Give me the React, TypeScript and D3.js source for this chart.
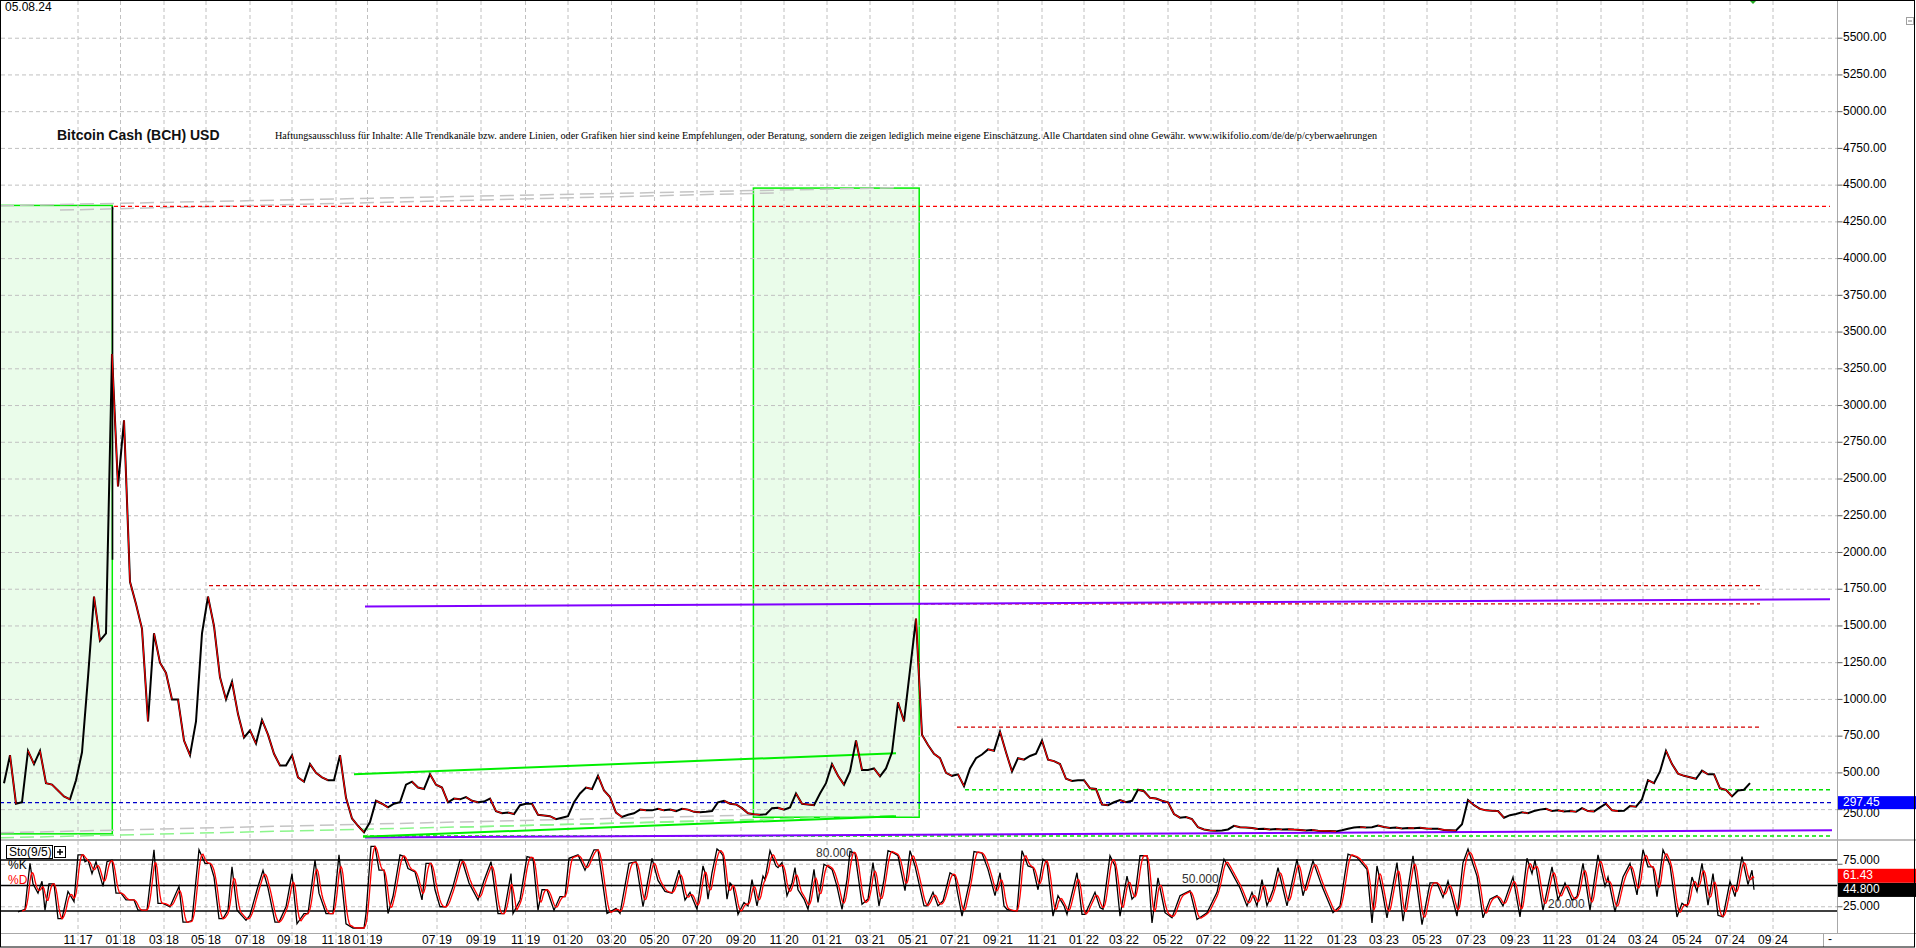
import React, { useEffect } from 'react';
import * as d3 from 'd3';

const W = 1916;
const H = 948;
const FONT = '"Liberation Sans", Arial, sans-serif';

const dateLabel = '05.08.24';
const title = 'Bitcoin Cash (BCH) USD';
const disclaimer =
  'Haftungsausschluss für Inhalte: Alle Trendkanäle bzw. andere Linien, oder Grafiken hier sind keine Empfehlungen, oder Beratung, sondern die zeigen lediglich meine eigene Einschätzung. Alle Chartdaten sind ohne Gewähr.  www.wikifolio.com/de/de/p/cyberwaehrungen';

// x axis is a bar index (not linear in time)
const monthLabels = [
  '11 17', '01 18', '03 18', '05 18', '07 18', '09 18', '11 18', '01 19', '07 19', '09 19',
  '11 19', '01 20', '03 20', '05 20', '07 20', '09 20', '11 20', '01 21', '03 21', '05 21',
  '07 21', '09 21', '11 21', '01 22', '03 22', '05 22', '07 22', '09 22', '11 22', '01 23',
  '03 23', '05 23', '07 23', '09 23', '11 23', '01 24', '03 24', '05 24', '07 24', '09 24',
];
const monthBars = [
  39, 60.25, 82, 103, 125, 146, 168, 183.75, 218.5, 240.5,
  262.75, 284, 305.75, 327.25, 348.5, 370.5, 392, 413.5, 435, 456.5,
  477.5, 499, 521, 542, 562, 584, 605.5, 627.5, 649, 671,
  692, 713.5, 735.5, 757.5, 778.5, 800.5, 821.5, 843.5, 865, 886.5,
];

const priceTicks = [
  250, 500, 750, 1000, 1250, 1500, 1750, 2000, 2250, 2500, 2750,
  3000, 3250, 3500, 3750, 4000, 4250, 4500, 4750, 5000, 5250, 5500,
];
const stochGrid = [25, 50, 75];
const stochAxisLabels = [25, 75];
const stochLevels = [20, 50, 80];
const stochLevelLabelBars = [774, 591, 408];

// closes, one every 3 bars starting at bar 2
const firstBar = 2;
const barStep = 3;
const closes = [
  430, 620, 290, 300, 650, 560, 650, 430, 420, 380, 340, 320, 450, 640, 1150, 1700, 1400, 1450, 3350, 2450,
  2900, 1800, 1650, 1480, 850, 1450, 1250, 1180, 1000, 1000, 720, 620, 850, 1450, 1700, 1500, 1150, 1000, 1120, 900,
  740, 790, 700, 860, 760, 630, 550, 550, 620, 470, 440, 560, 500, 470, 450, 450, 620, 330, 190, 140,
  95, 165, 310, 290, 265, 290, 300, 420, 440, 400, 390, 490, 420, 400, 300, 325, 320, 335, 310, 300,
  305, 325, 240, 225, 230, 220, 280, 290, 290, 215, 210, 205, 185, 195, 205, 300, 360, 400, 390, 480,
  380, 335, 230, 200, 215, 225, 250, 245, 245, 255, 245, 250, 240, 255, 250, 235, 232, 235, 240, 300,
  310, 290, 285, 260, 225, 218, 215, 218, 260, 262, 250, 265, 360, 290, 285, 280, 360, 430, 560, 480,
  420, 510, 720, 520, 520, 530, 476, 530, 640, 980, 850, 1200, 1550, 760, 690, 630, 600, 500, 480, 490,
  410, 530, 600, 625, 660, 650, 780, 640, 510, 600, 590, 615, 630, 720, 590, 580, 560, 460, 445, 450,
  450, 395, 390, 285, 280, 300, 315, 300, 310, 385, 375, 330, 325, 310, 300, 220, 195, 200, 185, 130,
  115, 108, 106, 108, 115, 140, 130, 128, 125, 118, 120, 115, 118, 115, 117, 114, 112, 108, 112, 106,
  105, 104, 102, 110, 120, 128, 132, 128, 130, 142, 132, 125, 128, 122, 125, 124, 127, 122, 120, 120,
  112, 110, 108, 150, 315, 280, 255, 245, 242, 240, 195, 212, 220, 232, 225, 240, 250, 255, 240, 245,
  238, 240, 235, 260, 240, 238, 265, 290, 245, 240, 242, 275, 270, 320, 450, 430, 510, 650, 560, 495,
  480, 470, 460, 515, 490, 490, 395, 385, 340, 380, 385, 430,
];
// [bar, high, low] of the all-time-high bar
const athWick = [56.25, 4355, 1950];

// Sto(9/5) %K as [bar, value]
const stochK: [number, number][] = [
  [9, 19], [12.5, 22], [13.5, 45], [15, 76], [16.5, 52], [19, 41], [21, 55], [22.5, 21], [24.5, 52], [27, 52],
  [29, 11], [31, 11], [34, 43], [37, 31], [39, 86], [41.5, 86], [42.5, 78], [44, 80], [46, 64], [48, 78],
  [51.5, 49], [53.5, 78], [56, 80], [58, 41], [60.5, 41], [63, 33], [67, 33], [69, 21], [73.5, 21], [77, 92],
  [79, 29], [81.5, 29], [85, 25], [89.5, 49], [91.5, 7], [94, 7], [96, 9], [99.5, 92], [102.5, 76], [105, 76],
  [107, 60], [109.5, 11], [111.5, 11], [114, 21], [116, 72], [118.5, 21], [123, 9], [125, 15], [128.5, 45], [131.5, 68],
  [134, 47], [137.5, 7], [139.5, 7], [143, 25], [146, 64], [148.5, 5], [152, 17], [154, 17], [157.5, 80], [159.5, 41],
  [163, 17], [166.5, 17], [169.5, 86], [173, 5], [176.5, 0], [182, 0], [183, 17], [185.5, 96], [187.5, 96], [189.5, 68],
  [192, 68], [194, 17], [196.5, 37], [200, 86], [202, 84], [204, 70], [207.5, 66], [211, 33], [213, 76], [215.5, 76],
  [217.5, 45], [220, 25], [223, 25], [226.5, 49], [230, 80], [231, 80], [234.5, 53], [239, 33], [242, 56], [245.5, 78],
  [249, 17], [252, 17], [255.5, 64], [256.5, 17], [260, 33], [263.5, 84], [266.5, 82], [269, 21], [271, 45], [273.5, 45],
  [277, 21], [280, 37], [282.5, 37], [284.5, 82], [289, 86], [292.5, 68], [297, 92], [299, 92], [303.5, 17], [308, 23],
  [310, 17], [314.5, 76], [318, 78], [321.5, 25], [326, 82], [329, 56], [332.5, 43], [336, 41], [339.5, 68], [342.5, 33],
  [345, 42], [348.5, 22], [351.5, 73], [352.5, 65], [354, 34], [356, 65], [358.5, 93], [360, 90], [361.5, 85], [363.5, 34],
  [365, 53], [366.5, 49], [369, 16], [372, 30], [374, 26], [376, 57], [378.5, 26], [381.5, 61], [382.5, 57], [385, 91],
  [388, 73], [389, 71], [391, 77], [393.5, 38], [396, 53], [397.5, 71], [399, 45], [402, 34], [404, 22], [407, 69],
  [409, 30], [412, 75], [413.5, 73], [416, 69], [418.5, 49], [421, 22], [423.5, 57], [425, 90], [427.5, 88], [431, 28],
  [434, 34], [436.5, 77], [439.5, 26], [442, 57], [444, 91], [447, 88], [449, 85], [452.5, 44], [455, 91], [457.5, 73],
  [462, 26], [463.5, 26], [466.5, 42], [469, 26], [471.5, 32], [475, 65], [477.5, 61], [478.5, 45], [481, 14], [485, 57],
  [487, 90], [491, 88], [494, 69], [497.5, 38], [500, 65], [502, 26], [503.5, 22], [507, 20], [508.5, 20], [511, 91],
  [514, 73], [516.5, 71], [519, 45], [521.5, 81], [523.5, 77], [526.5, 14], [529, 38], [532, 26], [533.5, 16], [538.5, 65],
  [541, 16], [542.5, 16], [547.5, 42], [550, 24], [551.5, 22], [555, 85], [557.5, 73], [560, 14], [563.5, 61], [566, 34],
  [567.5, 38], [570, 85], [573.5, 85], [576, 6], [579, 59], [582.5, 18], [586, 12], [590, 38], [595, 44], [598.5, 10],
  [603.5, 18], [608.5, 42], [612, 81], [615, 69], [620, 47], [623.5, 26], [626, 42], [628.5, 26], [631, 57], [633.5, 26],
  [636.5, 45], [639, 71], [643.5, 26], [648.5, 81], [651.5, 38], [656.5, 79], [661, 49], [666.5, 18], [670, 26], [674, 87],
  [678.5, 83], [683.5, 69], [686, 6], [688.5, 73], [691, 45], [693.5, 12], [698.5, 77], [701.5, 8], [706.5, 85], [711, 4],
  [715, 53], [718.5, 53], [721.5, 36], [724, 55], [728.5, 14], [731.5, 77], [734, 93], [738.5, 61], [741.5, 12], [745, 34],
  [748.5, 38], [751.5, 26], [756.5, 60], [760, 13], [763.5, 82], [766, 64], [767.5, 80], [771.5, 21], [776, 72], [779, 33],
  [782.5, 53], [786, 33], [788.5, 37], [791.5, 76], [795, 21], [799, 86], [802.5, 49], [804, 60], [807.5, 19], [811.5, 60],
  [815, 76], [818.5, 39], [821.5, 92], [824, 72], [826.5, 72], [828.5, 37], [831.5, 92], [835, 74], [838.5, 13], [841, 29],
  [843.5, 25], [846, 60], [848.5, 43], [851, 76], [854, 27], [856.5, 64], [859, 15], [861.5, 13], [865, 55], [867.5, 37],
  [871, 84], [874, 51], [876, 68], [877, 45],
];
const lastK = 44.8;
const lastD = 61.43;
const markPrice = 297.45;

// drawings: [fromBar, toBar, price]
const redLevels = [[57, 915, 4355], [104.5, 880, 1775], [458.5, 880, 1650], [478.5, 880, 811]];
const greenLevels = [[482.5, 916.5, 385], [181.5, 916.5, 71]];
// [bar0, price0, bar1, price1]
const purpleLines = [[182.5, 1633, 915, 1681], [182.5, 61, 916, 109]];
const greenLines = [[177, 490, 448, 634], [181.5, 65, 448, 205]];
const greyDashLines = [[0, 4360, 447, 4482], [30, 4330, 390, 4448], [0, 92, 380, 214]];
const lightGreenLines = [[0, 58, 380, 180], [230, 130, 450, 210]];
// [bar0, bar1, priceLow, priceHigh]
const boxes = [[0, 56.15, 85, 4362], [376.7, 459.6, 198, 4480]];

const x = d3.scaleLinear().domain([0, 920]).range([0, 1840]);
const yP = d3.scaleLinear().domain([50, 5760]).range([839, 0]);
const yS = d3.scaleLinear().domain([0, 100]).range([928, 843]);

const AXIS_X = 1837.5;

const App = () => {
  useEffect(() => {
    document.body.style.margin = '0';
  }, []);

  const pts = closes.map((c, i) => [firstBar + i * barStep, c] as [number, number]);
  const pLine = d3.line<[number, number]>().x(d => x(d[0])).y(d => yP(d[1]));

  const kAt = d3.scaleLinear()
    .domain(stochK.map(d => d[0]))
    .range(stochK.map(d => d[1]))
    .clamp(true);
  // %D: moving average of %K over the last 2 bars
  const dPts: [number, number][] = [];
  for (let b = stochK[0][0] + 2; b <= stochK[stochK.length - 1][0]; b += 0.5) {
    dPts.push([b, d3.mean([0, 0.5, 1, 1.5, 2], j => kAt(b - j)) as number]);
  }
  const sLine = d3.line<[number, number]>().x(d => x(d[0])).y(d => yS(d[1]));

  const dash = '4,3';

  return (
    <svg width={W} height={H} style={{ display: 'block', background: '#fff', fontFamily: FONT }}>
      <rect x={0} y={0} width={W} height={H} fill="#fff" />

      {/* green boxes */}
      {boxes.map((b, i) => (
        <rect key={'bx' + i} x={x(b[0])} y={yP(b[3])} width={x(b[1]) - x(b[0])} height={yP(b[2]) - yP(b[3])}
          fill="#eafcea" stroke="#00ee00" strokeWidth={1.5} />
      ))}

      {/* grid */}
      {monthBars.map((b, i) => (
        <line key={'vg' + i} x1={x(b)} x2={x(b)} y1={1} y2={947} stroke="#c0c0c0" strokeDasharray={dash} />
      ))}
      {priceTicks.map(t => (
        <line key={'hg' + t} x1={1} x2={AXIS_X} y1={yP(t)} y2={yP(t)} stroke="#c0c0c0" strokeDasharray={dash} />
      ))}
      {stochGrid.map(t => (
        <line key={'sg' + t} x1={1} x2={AXIS_X} y1={yS(t)} y2={yS(t)} stroke="#c0c0c0" strokeDasharray={dash} />
      ))}

      {/* trend drawings */}
      {greyDashLines.map((l, i) => (
        <line key={'gd' + i} x1={x(l[0])} y1={yP(l[1])} x2={x(l[2])} y2={yP(l[3])}
          stroke="#c4c4c4" strokeWidth={1.5} strokeDasharray="14,6" />
      ))}
      {lightGreenLines.map((l, i) => (
        <line key={'lg' + i} x1={x(l[0])} y1={yP(l[1])} x2={x(l[2])} y2={yP(l[3])}
          stroke="#8cf58c" strokeWidth={1.5} strokeDasharray="14,6" />
      ))}
      {redLevels.map((l, i) => (
        <line key={'rl' + i} x1={x(l[0])} x2={x(l[1])} y1={yP(l[2])} y2={yP(l[2])}
          stroke={i === 0 ? '#ff0000' : '#d40000'} strokeWidth={1.2} strokeDasharray="4,3" />
      ))}
      <line x1={0} x2={x(916.5)} y1={yP(markPrice)} y2={yP(markPrice)} stroke="#0000c8" strokeWidth={1.2} strokeDasharray="4,3" />
      {greenLevels.map((l, i) => (
        <line key={'gl' + i} x1={x(l[0])} x2={x(l[1])} y1={yP(l[2])} y2={yP(l[2])}
          stroke="#00e000" strokeWidth={1.5} strokeDasharray="4,3" />
      ))}
      {purpleLines.map((l, i) => (
        <line key={'pl' + i} x1={x(l[0])} y1={yP(l[1])} x2={x(l[2])} y2={yP(l[3])} stroke="#8000ff" strokeWidth={2} />
      ))}
      {greenLines.map((l, i) => (
        <line key={'gn' + i} x1={x(l[0])} y1={yP(l[1])} x2={x(l[2])} y2={yP(l[3])} stroke="#00ee00" strokeWidth={2} />
      ))}

      {/* price: black bars underneath, red on falling stretches */}
      <line x1={x(athWick[0])} x2={x(athWick[0])} y1={yP(athWick[1])} y2={yP(athWick[2])} stroke="#000" strokeWidth={1.6} />
      <path d={pLine(pts) || ''} fill="none" stroke="#000" strokeWidth={2} strokeLinejoin="miter" />
      {pts.slice(1).map((p, i) => {
        const q = pts[i];
        if (p[1] >= q[1]) return null;
        return (
          <line key={'p' + i} x1={x(q[0])} y1={yP(q[1])} x2={x(p[0])} y2={yP(p[1])}
            stroke="#ff0000" strokeWidth={1.1} />
        );
      })}

      {/* panels separators */}
      <line x1={0} x2={W} y1={840} y2={840} stroke="#a8a8a8" strokeWidth={1.5} />
      <line x1={0} x2={W} y1={933.5} y2={933.5} stroke="#a8a8a8" />

      {/* stochastic */}
      {stochLevels.map(v => (
        <line key={'sl' + v} x1={1} x2={AXIS_X} y1={yS(v)} y2={yS(v)} stroke="#000" strokeWidth={1.5} />
      ))}
      {stochLevels.map((v, i) => (
        <text key={'st' + v} x={x(stochLevelLabelBars[i])} y={yS(v) - 6} fontSize={12} fill="#333"
          dominantBaseline="middle">{v.toFixed(3)}</text>
      ))}
      <path d={sLine(stochK) || ''} fill="none" stroke="#000" strokeWidth={1.3} />
      <path d={sLine(dPts) || ''} fill="none" stroke="#ff0000" strokeWidth={1.3} />

      <rect x={6.5} y={845.5} width={46} height={13} fill="#fff" stroke="#000" />
      <text x={9} y={852.5} fontSize={12} dominantBaseline="middle" fill="#000">Sto(9/5)</text>
      <rect x={54.5} y={846.5} width={11} height={11} fill="#fff" stroke="#000" />
      <path d="M57 852 H63 M60 849 V855" stroke="#000" strokeWidth={1.5} />
      <text x={8} y={866} fontSize={12} dominantBaseline="middle" fill="#000">%K</text>
      <text x={8} y={881} fontSize={12} dominantBaseline="middle" fill="#ff0000">%D</text>

      {/* right axis */}
      <line x1={AXIS_X} x2={AXIS_X} y1={0} y2={933} stroke="#a8a8a8" />
      {priceTicks.map(t => (
        <g key={'pt' + t}>
          <line x1={AXIS_X} x2={AXIS_X + 5} y1={yP(t)} y2={yP(t)} stroke="#606060" />
          <text x={1843} y={yP(t) + (t === 250 ? 4 : 0)} fontSize={12} dominantBaseline="middle" fill="#000">{t.toFixed(2)}</text>
        </g>
      ))}
      {stochGrid.map(t => (
        <line key={'stk' + t} x1={AXIS_X} x2={AXIS_X + 5} y1={yS(t)} y2={yS(t)} stroke="#606060" />
      ))}
      {stochAxisLabels.map(t => (
        <text key={'stt' + t} x={1843} y={yS(t) - (t === 75 ? 3 : 0)} fontSize={12} dominantBaseline="middle" fill="#000">{t.toFixed(3)}</text>
      ))}
      <rect x={1838} y={yP(markPrice) - 6.5} width={78} height={13} fill="#0000ff" />
      <text x={1843} y={yP(markPrice)} fontSize={12} dominantBaseline="middle" fill="#fff">{markPrice.toFixed(2)}</text>
      <rect x={1838} y={yS(lastD) - 7} width={78} height={14} fill="#ff0000" />
      <text x={1843} y={yS(lastD)} fontSize={12} dominantBaseline="middle" fill="#fff">{lastD.toFixed(2)}</text>
      <rect x={1838} y={yS(lastK) - 7} width={78} height={14} fill="#000" />
      <text x={1843} y={yS(lastK)} fontSize={12} dominantBaseline="middle" fill="#fff">{lastK.toFixed(3)}</text>

      {/* bottom axis */}
      {monthLabels.map((m, i) => (
        <text key={'ml' + i} x={x(monthBars[i])} y={941} fontSize={12} textAnchor="middle" dominantBaseline="middle" fill="#000">{m}</text>
      ))}
      <line x1={1823.5} x2={1823.5} y1={934} y2={947} stroke="#a8a8a8" />
      <text x={1828} y={940} fontSize={12} dominantBaseline="middle" fill="#000">-</text>

      {/* titles */}
      <text x={5} y={8} fontSize={12} dominantBaseline="middle" fill="#000">{dateLabel}</text>
      <text x={57} y={136} fontSize={14} fontWeight="bold" dominantBaseline="middle" fill="#111">{title}</text>
      <text x={275} y={136} fontSize={11} fontFamily='"Liberation Serif", "Times New Roman", serif'
        textLength={1102} lengthAdjust="spacingAndGlyphs" dominantBaseline="middle" fill="#000">{disclaimer}</text>

      {/* small markers */}
      <path d={`M${x(876.5) - 4} 0 L${x(876.5) + 4} 0 L${x(876.5)} 4 Z`} fill="#22aa22" />
      <rect x={1906.5} y={17.5} width={7} height={7} fill="#fff" stroke="#a0a0a0" />
      <line x1={1908} x2={1912} y1={21} y2={21} stroke="#808080" />

      {/* frame */}
      <rect x={0.5} y={0.5} width={1914} height={946.5} fill="none" stroke="#000" />
    </svg>
  );
};

export default App;
